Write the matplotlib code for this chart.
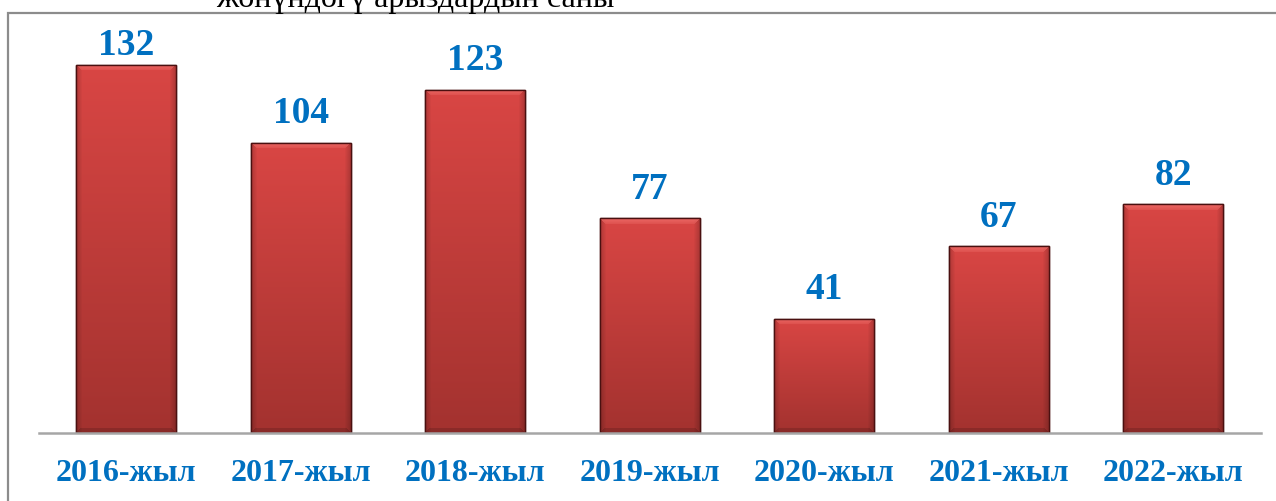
import matplotlib
matplotlib.use("Agg")
import matplotlib.pyplot as plt
import numpy as np
from matplotlib.patches import Rectangle

categories = ["2016-жыл", "2017-жыл", "2018-жыл", "2019-жыл", "2020-жыл", "2021-жыл", "2022-жыл"]
values = [132, 104, 123, 77, 41, 67, 82]
title_text = "жөнүндөгү арыздардын саны"

W, H = 1276, 501
DPI = 100
fig = plt.figure(figsize=(W / DPI, H / DPI), dpi=DPI)
fig.patch.set_facecolor("white")

border = Rectangle((8 / W, -0.1), 1.2, (H - 13) / H + 0.1, transform=fig.transFigure,
                   fill=False, edgecolor="#8c8c8c", linewidth=1.6, zorder=0)
fig.patches.append(border)

fig.text(415 / W, 1 - 7 / H, title_text, ha="center", va="baseline",
         fontsize=23, family="Liberation Serif", color="black")

ymax = 140
px_per_unit = 2.79
ax_left = 39 / W
ax_bottom = (H - 433) / H
ax_w = 1221.5 / W
ax_h = ymax * px_per_unit / H
ax = fig.add_axes([ax_left, ax_bottom, ax_w, ax_h])
ax.set_xlim(-0.5, len(categories) - 0.5)
ax.set_ylim(0, ymax)
ax.patch.set_alpha(0)
for s in ["top", "left", "right"]:
    ax.spines[s].set_visible(False)
ax.spines["bottom"].set_color("#a6a6a6")
ax.spines["bottom"].set_linewidth(1.8)
ax.spines["bottom"].set_zorder(5)
ax.set_yticks([])
ax.set_xticks(range(len(categories)))
ax.set_xticklabels(categories, fontsize=23, fontweight="bold",
                   family="Liberation Serif", color="#0070C0")
ax.tick_params(axis="x", length=0, pad=18.5)

x = np.arange(len(categories))
bw = 0.573
bars = ax.bar(x, values, width=bw, color="#c53b38", edgecolor="#4a1010",
              linewidth=1.0, zorder=2)

top_rgb = np.array([0xd9, 0x46, 0x44]) / 255
bot_rgb = np.array([0xa3, 0x32, 0x2f]) / 255
bevel_rgb = np.array([0xee, 0x6e, 0x6a]) / 255

bar_px_w = 100
label_cap = 135.5  # data-space cap for label baseline near the top of the plot
for b, v in zip(bars, values):
    x0 = b.get_x()
    hpx = int(round(v * px_per_unit))
    t = np.linspace(1, 0, hpx)[:, None]  # row 0 = top
    base = bot_rgb + (top_rgb - bot_rgb) * t
    img = np.broadcast_to(base[:, None, :], (hpx, bar_px_w, 3)).copy()
    cols = np.arange(bar_px_w)
    dist = np.minimum(cols, bar_px_w - 1 - cols)
    shade = np.clip(dist / 6.0, 0, 1) * 0.18 + 0.82
    img *= shade[None, :, None]
    for r in range(min(6, hpx)):
        c0, c1 = r, bar_px_w - r
        f = 0.85 - r * 0.1
        img[r, c0:c1] = img[r, c0:c1] * (1 - f) + bevel_rgb * f
    for r in range(min(5, hpx)):
        rr = hpx - 1 - r
        img[rr, r:bar_px_w - r] *= 0.85
    im = ax.imshow(img, extent=(x0, x0 + bw, 0, v), aspect="auto", zorder=2.1,
                   interpolation="bilinear")
    im.set_clip_path(b)
    ax.add_patch(Rectangle((x0, 0), bw, v, fill=False, edgecolor="#4a1010",
                           linewidth=1.0, zorder=2.4))
    ly = min(v + 7.0, label_cap)
    ax.text(b.get_x() + bw / 2, ly, str(v), ha="center", va="baseline",
            fontsize=27, fontweight="bold", family="Liberation Serif",
            color="#0070C0", zorder=3, clip_on=False)

fig.savefig("out.png", dpi=DPI, facecolor="white")
